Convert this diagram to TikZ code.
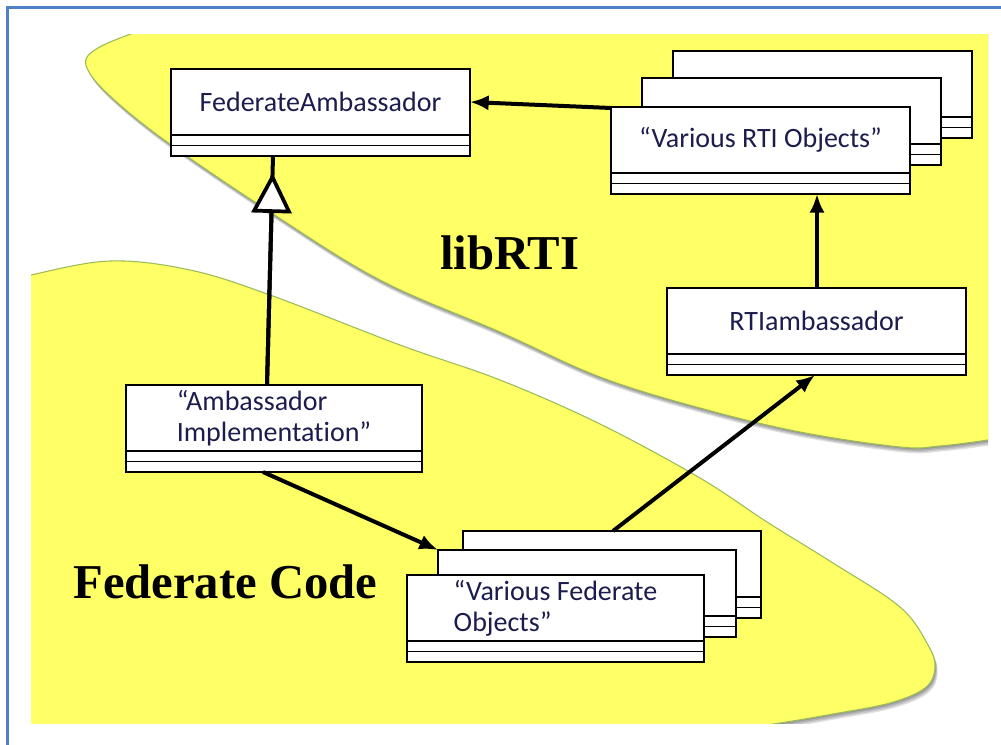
\documentclass[tikz,border=0pt]{standalone}
\usepackage{fontspec}
\setmainfont{Carlito}[Ligatures=NoCommon]
\newfontfamily\regionfont{Liberation Serif}
\usetikzlibrary{arrows.meta,calc}

\definecolor{blobyellow}{RGB}{255,255,102}
\definecolor{blobedge}{RGB}{155,187,89}
\definecolor{frameblue}{RGB}{79,129,199}
\definecolor{classtext}{RGB}{28,28,78}
\newcommand\pxu{0.75pt}

% horizontal compartment lines of a class box
\newcommand\compartments[1]{%
  \draw[boxline] ($(#1.south west)+(0,-21)$) -- ($(#1.south east)+(0,-21)$);
  \draw[boxline] ($(#1.south west)+(0,-10.5)$) -- ($(#1.south east)+(0,-10.5)$);
}

\begin{document}
\begin{tikzpicture}[x=0.75pt,y=-0.75pt,
  boxline/.style={draw=black, line width=1.2pt},
  umlbox/.style={boxline, fill=white, minimum width=299*\pxu,
    minimum height=87*\pxu, inner sep=0pt, outer sep=0pt, anchor=north west},
  classname/.style={font=\fontsize{21}{23.25}\selectfont, text=classtext,
    align=left, inner sep=0pt},
  conn/.style={draw=black, line width=3pt},
  assoc/.style={conn, -{Latex[length=14pt,width=11.5pt]}},
  region/.style={font=\regionfont\bfseries\fontsize{36.5}{40}\selectfont,
    anchor=base west, inner sep=0pt},
  blob/.style={fill=blobyellow, draw=blobedge, line width=0.8pt},
  blobshadow/.style={fill=black, opacity=0.12},
]
\useasboundingbox (0,0) rectangle (1001,745);

% ---- the two regions ----
\begin{scope}
  \clip (31,35) rectangle (988,723);
  \path[save path=\libpath] plot[smooth, tension=0.6] coordinates {
    (1010,436) (988,440) (940,446) (900,447) (800,432) (700,408) (600,377)
    (500,332) (380,280) (270,212) (167,142) (110,96) (87,68) (92,52)
    (128,35) (200,12)} -- (1010,0) -- cycle;
  \path[save path=\fedpath] plot[smooth, tension=0.6] coordinates {
    (10,282) (31,275) (110,261) (190,270) (270,295) (400,345) (500,380)
    (600,424) (700,478) (767,522) (833,563) (900,607) (928,645) (935,668)
    (925,688) (890,703) (833,714) (780,723) (700,735)}
    -- (700,760) -- (10,760) -- cycle;
  \foreach \s in {1,2,3,4} {
    \path[use path=\libpath, blobshadow, transform canvas={shift={(0.5*\s pt,-\s pt)}}];
    \path[use path=\fedpath, blobshadow, transform canvas={shift={(0.5*\s pt,-\s pt)}}];
  }
  \path[use path=\libpath, blob];
  \path[use path=\fedpath, blob];
\end{scope}

% ---- frame ----
\draw[frameblue, line width=1.6pt] (7.5,745) -- (7.5,7.5) -- (1001,7.5);

% ---- region labels ----
\node[region] (lib) at (440,270) {libRTI};
\node[region] (fed) at (73,599) {Federate Code};

% ---- classes ----
\node[umlbox] (fa) at (171,69) {};
\compartments{fa}
\node[classname] (fa-t) at ($(fa.north)+(0,33)$) {FederateAmbassador};

\node[umlbox] (rti3) at (673,51) {};
\compartments{rti3}
\node[umlbox] (rti2) at (642,78) {};
\compartments{rti2}
\node[umlbox] (rti1) at (611,107) {};
\compartments{rti1}
\node[classname] (rti1-t) at ($(rti1.north)+(0,33)$) {“Various RTI Objects”};

\node[umlbox] (ra) at (667,288) {};
\compartments{ra}
\node[classname] (ra-t) at ($(ra.north)+(0,33)$) {RTIambassador};

\node[umlbox, minimum width=296*\pxu] (ai) at (126,385) {};
\compartments{ai}
\node[classname] (ai-t) at ($(ai.north)+(0,33)$) {“Ambassador\\Implementation”};

\node[umlbox, minimum width=298*\pxu] (fo3) at (463,531) {};
\compartments{fo3}
\node[umlbox, minimum width=298*\pxu] (fo2) at (438,550) {};
\compartments{fo2}
\node[umlbox, minimum width=297*\pxu] (fo1) at (407,575) {};
\compartments{fo1}
\node[classname] (fo1-t) at ($(fo1.north)+(0,33)$) {“Various Federate\\Objects”};

% ---- connectors ----
\draw[assoc] ($(rti1.north west)+(0,1)$) -- ($(fa.north east)+(0,33)$);
\draw[conn] ($(ai.north west)+(141,0)$) -- ($(fa.south west)+(102,0)$);
\draw[conn, -{Triangle[length=30pt,width=30pt,fill=white,line width=2.8pt]},
  shorten >=17*\pxu] ($(ai.north west)+(141,0)$) -- ($(fa.south west)+(102,0)$);
\draw[assoc] ($(ai.south west)+(137,0)$) -- (fo2.north west);
\draw[assoc] ($(fo3.north west)+(150,0)$) -- ($(ra.south west)+(148,0)$);
\draw[assoc] ($(ra.north west)+(150,0)$) -- ($(rti1.south west)+(206,0)$);
\end{tikzpicture}
\end{document}
